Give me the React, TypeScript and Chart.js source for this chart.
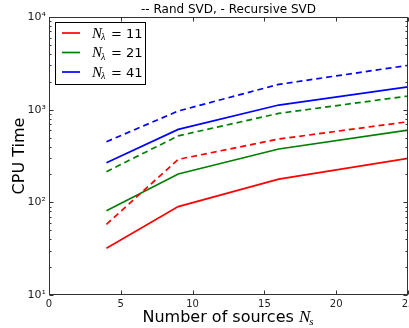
import React, { useEffect, useRef } from "react";
import { Chart, registerables } from "chart.js";
Chart.register(...registerables);

const sources = [4, 9, 16, 25];
const rand11 = [58, 291, 482, 741];
const rec11 = [32, 90, 178, 298];
const rand21 = [214, 522, 912, 1403];
const rec21 = [81, 202, 376, 603];
const rand41 = [451, 967, 1875, 3006];
const rec41 = [267, 612, 1122, 1766];
const xTicks = [0, 5, 10, 15, 20, 25];
const yMajor = [10, 100, 1000, 10000];
const legendNames = ["11", "21", "41"];
const colors = ["#ff0000", "#008000", "#0000ff"];

const titleText = "-- Rand SVD, - Recursive SVD";
const yTitle = "CPU Time";
const xTitle = "Number of sources ";

const W = 430;
const H = 328;
const SUP: Record<string, string> = { "1": "\u00b9", "2": "\u00b2", "3": "\u00b3", "4": "\u2074" };

const pts = (ys: number[]) => sources.map((x, i) => ({ x, y: ys[i] }));

const decor = {
  id: "decor",
  afterDraw(chart: any) {
    const ctx = chart.ctx as CanvasRenderingContext2D;
    const { left, right, top, bottom } = chart.chartArea;
    const xs = chart.scales.x;
    const ys = chart.scales.y;
    ctx.save();
    // frame
    ctx.strokeStyle = "#333";
    ctx.lineWidth = 1;
    const L = Math.round(left) + 0.5, R = Math.round(right) - 0.5, T = Math.round(top) + 0.5, B = Math.round(bottom) - 0.5;
    ctx.strokeRect(L, T, R - L, B - T);
    // ticks
    ctx.beginPath();
    for (const v of xTicks) {
      const x = Math.round(xs.getPixelForValue(v)) + 0.5;
      ctx.moveTo(x, B); ctx.lineTo(x, B - 4);
      ctx.moveTo(x, T); ctx.lineTo(x, T + 4);
    }
    for (let d = 1; d <= 4; d++) {
      for (let m = 1; m <= 9; m++) {
        if (d === 4 && m > 1) break;
        const v = m * Math.pow(10, d);
        const y = Math.round(ys.getPixelForValue(v)) + 0.5;
        const len = m === 1 ? 4 : 2;
        ctx.moveTo(L, y); ctx.lineTo(L + len, y);
        ctx.moveTo(R, y); ctx.lineTo(R - len, y);
      }
    }
    ctx.stroke();

    ctx.fillStyle = "#000";
    // title
    ctx.font = "12px 'DejaVu Sans'";
    ctx.textAlign = "center";
    ctx.textBaseline = "alphabetic";
    ctx.fillText(titleText, (left + right) / 2, 13);

    // y title
    ctx.save();
    ctx.translate(20, (top + bottom) / 2);
    ctx.rotate(-Math.PI / 2);
    ctx.font = "16px 'DejaVu Sans'";
    ctx.textBaseline = "middle";
    ctx.fillText(yTitle, 0, 0);
    ctx.restore();

    // x title
    ctx.textAlign = "left";
    ctx.font = "16px 'DejaVu Sans'";
    const w1 = ctx.measureText(xTitle).width;
    ctx.font = "italic 17px 'Liberation Serif'";
    const w2 = ctx.measureText("N").width;
    ctx.font = "italic 11px 'Liberation Serif'";
    const w3 = ctx.measureText("s").width;
    let x0 = (left + right) / 2 - (w1 + w2 + w3) / 2;
    const base = 322;
    ctx.font = "16px 'DejaVu Sans'";
    ctx.fillText(xTitle, x0, base);
    ctx.font = "italic 17px 'Liberation Serif'";
    ctx.fillText("N", x0 + w1, base);
    ctx.font = "italic 11px 'Liberation Serif'";
    ctx.fillText("s", x0 + w1 + w2 - 1, base + 3);

    // legend
    ctx.strokeStyle = "#000";
    ctx.lineWidth = 1;
    ctx.strokeRect(55.5, 22.5, 90, 62);
    const rows = [33, 52.5, 72];
    rows.forEach((ry, i) => {
      ctx.strokeStyle = colors[i];
      ctx.lineWidth = 1.7;
      ctx.beginPath();
      ctx.moveTo(62, ry); ctx.lineTo(80, ry);
      ctx.stroke();
      ctx.fillStyle = "#000";
      ctx.font = "italic 15px 'Liberation Serif'";
      ctx.fillText("N", 92, ry + 4.5);
      const nw = ctx.measureText("N").width;
      ctx.font = "italic 10px 'Liberation Serif'";
      ctx.fillText("\u03bb", 92 + nw - 1, ry + 7);
      ctx.font = "13px 'DejaVu Sans'";
      ctx.fillText("= " + legendNames[i], 111, ry + 4.5);
    });
    ctx.restore();
  },
};

export default function App() {
  const ref = useRef<HTMLCanvasElement>(null);
  useEffect(() => {
    const canvas = ref.current!;
    const mk = (label: string, data: number[], color: string, dashed: boolean) => ({
      label,
      data: pts(data),
      borderColor: color,
      backgroundColor: color,
      borderWidth: 1.7,
      borderDash: dashed ? [6, 4] : [],
      pointRadius: 0,
      tension: 0,
      fill: false,
    });
    const chart = new Chart(canvas, {
      type: "line",
      data: {
        datasets: [
          mk("Rand N=11", rand11, colors[0], true),
          mk("Rand N=21", rand21, colors[1], true),
          mk("Rand N=41", rand41, colors[2], true),
          mk("Recursive N=11", rec11, colors[0], false),
          mk("Recursive N=21", rec21, colors[1], false),
          mk("Recursive N=41", rec41, colors[2], false),
        ],
      },
      options: {
        responsive: false,
        animation: false,
        layout: { padding: { top: 17, right: 22, left: 0, bottom: 0 } },
        plugins: { legend: { display: false }, title: { display: false }, tooltip: { enabled: false } },
        scales: {
          x: {
            type: "linear",
            min: 0,
            max: 25,
            grid: { display: false, drawTicks: false },
            border: { display: false },
            ticks: { stepSize: 5, padding: 3, color: "#222", font: { family: "DejaVu Sans", size: 10 } },
            afterFit: (s: any) => { s.height = 33; },
          },
          y: {
            type: "logarithmic",
            min: 10,
            max: 10000,
            grid: { display: false, drawTicks: false },
            border: { display: false },
            ticks: {
              padding: 3,
              autoSkip: false,
              color: "#222",
              font: { family: "DejaVu Sans", size: 11 },
              callback: (v: any) => {
                const n = Number(v);
                if (yMajor.includes(n)) {
                  const e = String(Math.round(Math.log10(n)));
                  return "10" + SUP[e];
                }
                return "";
              },
            },
            afterFit: (s: any) => { s.width = 49; },
          },
        },
      },
      plugins: [decor],
    } as any);
    return () => chart.destroy();
  }, []);
  return (
    <div style={{ position: "fixed", left: 0, top: 0, width: 409, height: 328, overflow: "hidden", background: "#fff" }}>
      <canvas ref={ref} width={W} height={H} style={{ display: "block", width: W, height: H }} />
    </div>
  );
}
